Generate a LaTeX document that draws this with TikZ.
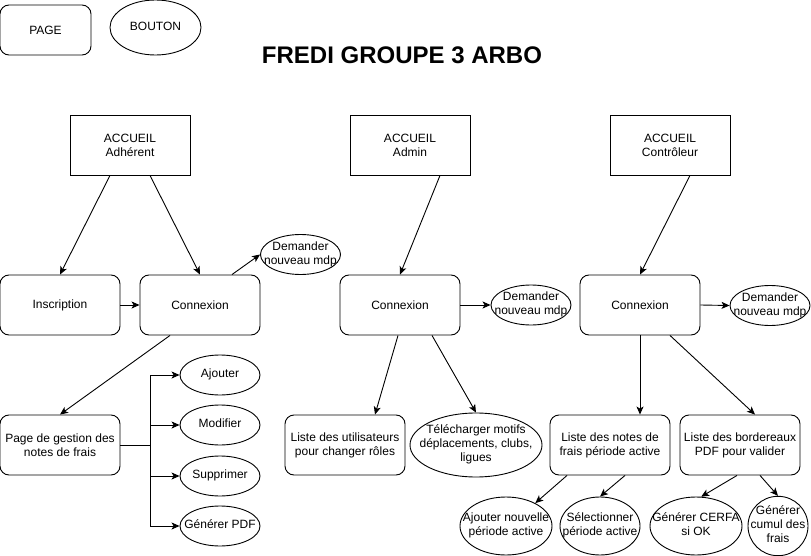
\documentclass[tikz,border=0pt]{standalone}
\usepackage{fontspec}
\setmainfont{Liberation Sans}
\usetikzlibrary{arrows.meta,shapes.geometric}
\newcommand{\ovaltxt}[1]{\makebox[0pt]{\begin{tabular}{@{}c@{}}#1\end{tabular}}}
\tikzset{%
  pagebox/.style = {shape=rectangle, rounded corners=9pt,%
                    draw, align=center,%
                    minimum width=120pt, minimum height=60pt},%
  accueil/.style = {pagebox, sharp corners},%
  bouton/.style  = {shape=ellipse, draw, inner sep=0pt,%
                    minimum width=80pt, minimum height=40pt},%
  lien/.style    = {-{Stealth[length=8pt,width=7pt,inset=2pt]}}%
}
\begin{document}
\begin{tikzpicture}[x=1pt,y=-1pt,line width=0.9pt,
	every node/.style={font=\fontsize{12}{14}\selectfont}]%
	\useasboundingbox (0,0) rectangle (811,556);
	% legende et titre
	\node[pagebox, minimum width=91pt, minimum height=50pt] (page) at (45.5,30) {PAGE};
	\node[bouton, minimum width=91pt, minimum height=55pt] (bouton) at (155.5,27.5) {\ovaltxt{BOUTON}};
	\node[font=\fontsize{24}{28}\selectfont\bfseries] (titre) at (402,55) {FREDI GROUPE 3 ARBO};
	% adherent
	\node[accueil] (accAdh) at (130,145) {ACCUEIL\\Adhérent};
	\node[pagebox] (inscr) at (60,305) {Inscription};
	\node[pagebox] (cnxAdh) at (200,305) {Connexion};
	\node[bouton] (mdpAdh) at (300.5,254.5) {\ovaltxt{Demander\\nouveau mdp}};
	\node[pagebox] (gestion) at (60,445) {Page de gestion des\\notes de frais};
	\node[bouton] (ajouter) at (220,375) {\ovaltxt{Ajouter}};
	\node[bouton] (modifier) at (220,425) {\ovaltxt{Modifier}};
	\node[bouton] (supprimer) at (220,476) {\ovaltxt{Supprimer}};
	\node[bouton] (pdf) at (220,526) {\ovaltxt{Générer PDF}};
	% admin
	\node[accueil] (accAdm) at (410,145) {ACCUEIL\\Admin};
	\node[pagebox] (cnxAdm) at (400,305) {Connexion};
	\node[bouton] (mdpAdm) at (531,305) {\ovaltxt{Demander\\nouveau mdp}};
	\node[pagebox] (utilis) at (345,445) {Liste des utilisateurs\\pour changer rôles};
	\node[bouton, minimum width=132pt, minimum height=64pt] (telech) at (476,445)
		{\ovaltxt{Télécharger motifs\\déplacements, clubs,\\ligues}};
	% controleur
	\node[accueil] (accCtrl) at (670,145) {ACCUEIL\\Contrôleur};
	\node[pagebox] (cnxCtrl) at (640,305) {Connexion};
	\node[bouton] (mdpCtrl) at (770,305.5) {\ovaltxt{Demander\\nouveau mdp}};
	\node[pagebox] (notes) at (610,445) {Liste des notes de\\frais période active};
	\node[pagebox] (bordx) at (740,445) {Liste des bordereaux\\PDF pour valider};
	\node[bouton, minimum width=92pt, minimum height=58pt] (ajPer) at (506,526)
		{\ovaltxt{Ajouter nouvelle\\période active}};
	\node[bouton, minimum width=80pt, minimum height=58pt] (selPer) at (600,526)
		{\ovaltxt{Sélectionner\\période active}};
	\node[bouton, minimum width=92pt, minimum height=58pt] (cerfa) at (696,526)
		{\ovaltxt{Générer CERFA\\si OK}};
	\node[bouton, minimum width=60pt, minimum height=58pt] (cumul) at (778,526)
		{\ovaltxt{Générer\\cumul des\\frais}};
	% liens
	\draw[lien] ([xshift=-20pt]accAdh.south) -- (inscr.north);
	\draw[lien] ([xshift=20pt]accAdh.south) -- (cnxAdh.north);
	\draw[lien] (inscr) -- (cnxAdh);
	\draw[lien] ([xshift=32pt]cnxAdh.north) -- (mdpAdh.west);
	\draw[lien] ([xshift=-30pt]cnxAdh.south) -- (gestion.north);
	\foreach \op in {ajouter,modifier,supprimer,pdf}
		\draw[lien] (gestion.east) -- ++(30,0) |- (\op.west);
	\draw[lien] ([xshift=30pt]accAdm.south) -- (cnxAdm.north);
	\draw[lien] (cnxAdm.east) -- (mdpAdm.west);
	\draw[lien] ([xshift=-2pt]cnxAdm.south) -- ([xshift=30pt]utilis.north);
	\draw[lien] ([xshift=32pt]cnxAdm.south) -- (telech.north);
	\draw[lien] ([xshift=20pt]accCtrl.south) -- (cnxCtrl.north);
	\draw[lien] (cnxCtrl.east) -- (mdpCtrl.west);
	\draw[lien] (cnxCtrl.south) -- ([xshift=30pt]notes.north);
	\draw[lien] ([xshift=30pt]cnxCtrl.south) -- ([xshift=15pt]bordx.north);
	\draw[lien] ([xshift=-43pt]notes.south) -- (ajPer.38);
	\draw[lien] ([xshift=15pt]notes.south) -- (selPer.north);
	\draw[lien] ([xshift=-3pt]bordx.south) -- (cerfa.80);
	\draw[lien] ([xshift=20pt]bordx.south) -- (cumul.north);
\end{tikzpicture}
\end{document}
